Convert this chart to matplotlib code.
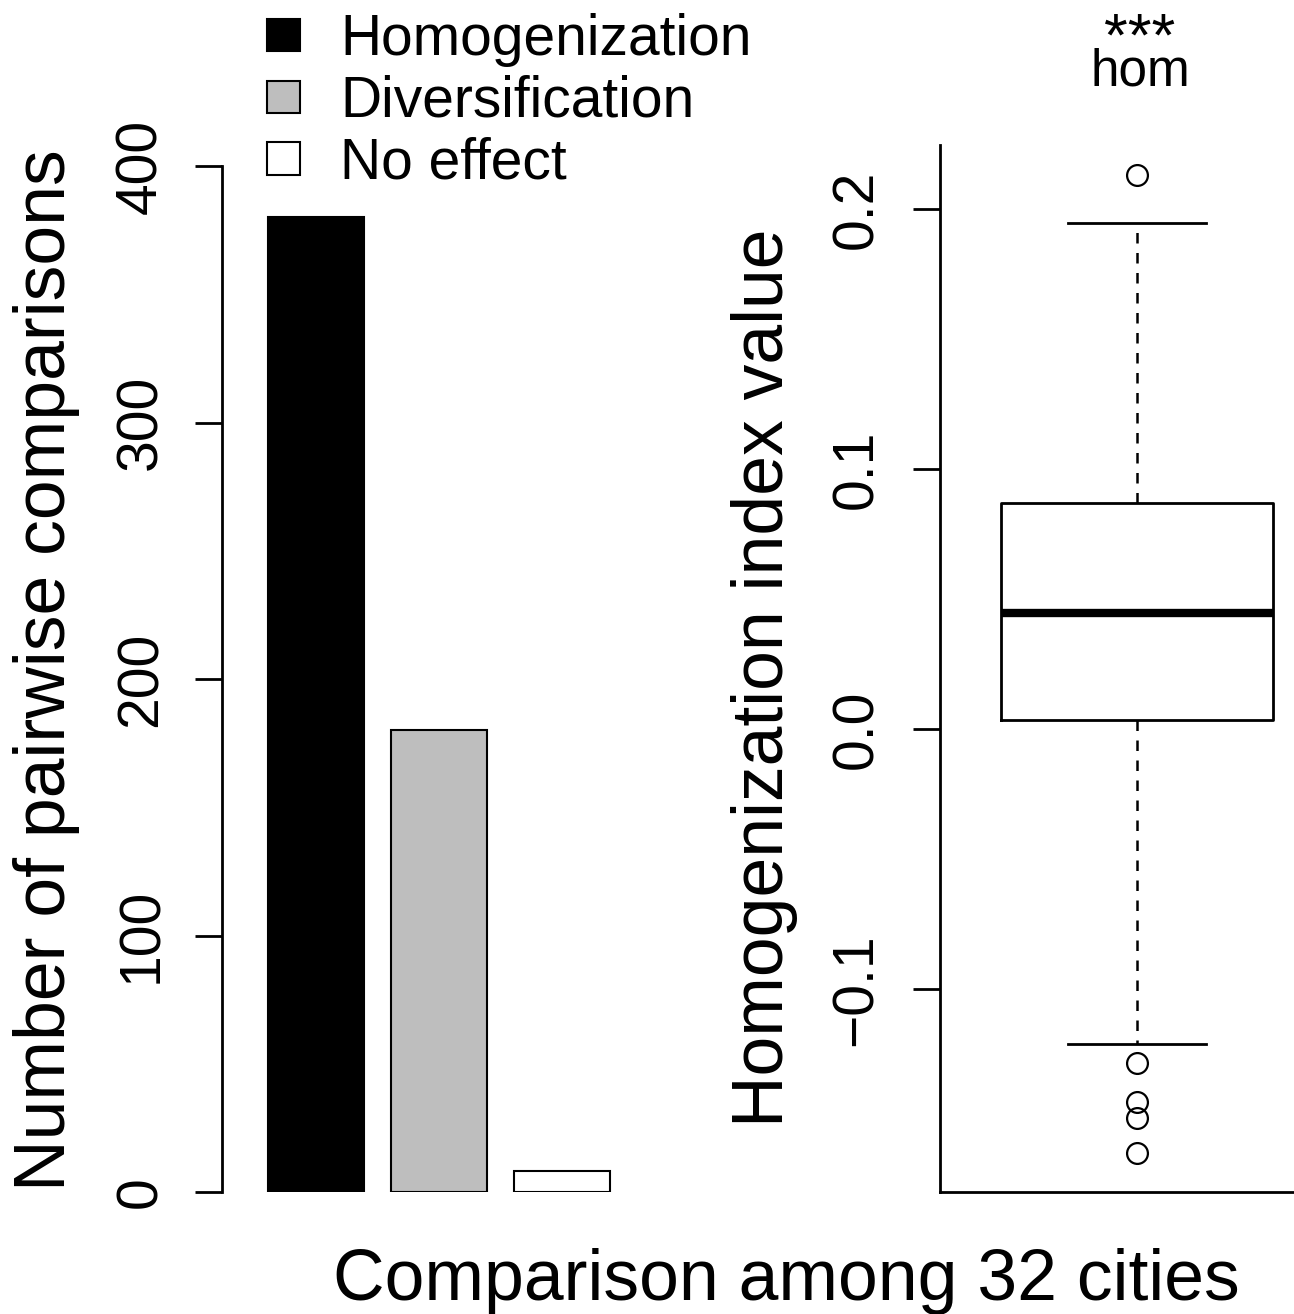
import matplotlib
matplotlib.use('Agg')
import matplotlib.pyplot as plt
from matplotlib.patches import Patch

plt.rcParams['font.family'] = ['Liberation Sans', 'DejaVu Sans']

# ---- data ----
categories = ['Homogenization', 'Diversification', 'No effect']
counts = [380, 180, 8]
bar_colors = ['black', '#bebebe', 'white']
count_ticks = [0, 100, 200, 300, 400]
count_tick_labels = ['0', '100', '200', '300', '400']

hom_med = 0.0447
hom_q1 = 0.0035
hom_q3 = 0.0870
hom_whislo = -0.1209
hom_whishi = 0.1946
hom_fliers = [0.2131, -0.1283, -0.1433, -0.1496, -0.1631]
hom_ticks = [-0.1, 0.0, 0.1, 0.2]
hom_tick_labels = ['\u22120.1', '0.0', '0.1', '0.2']

W, H = 1294, 1314
fig = plt.figure(figsize=(W / 100, H / 100), dpi=100)


def rect(x0, y0, x1, y1):
    return [x0 / W, 1 - y1 / H, (x1 - x0) / W, (y1 - y0) / H]


# ---- left panel: bar chart ----
ax1 = fig.add_axes(rect(222, 166, 640, 1192))
positions = list(range(len(counts)))
ax1.bar(positions, counts, width=0.78, color=bar_colors, edgecolor='black',
        linewidth=1.5)
ax1.set_xlim(-0.764, 2.634)
ax1.set_ylim(0, 400)
for s in ['top', 'right', 'bottom']:
    ax1.spines[s].set_visible(False)
ax1.spines['left'].set_linewidth(2)
ax1.spines['left'].set_bounds(0, 400)
ax1.set_xticks([])
ax1.set_yticks(count_ticks, count_tick_labels)
ax1.tick_params(axis='y', length=19.4, width=2, pad=19, labelsize=41,
                labelrotation=90)
for lab in ax1.get_yticklabels():
    lab.set_va('center')

handles = [Patch(facecolor=c, edgecolor='black', linewidth=1.5, label=l)
           for c, l in zip(bar_colors, categories)]
ax1.legend(handles=handles, loc='upper left',
           bbox_to_anchor=(267 / W, 1 - 13 / H), bbox_transform=fig.transFigure,
           frameon=False, fontsize=41, handlelength=0.58, handleheight=0.5,
           handletextpad=0.7, labelspacing=0.14, borderpad=0, borderaxespad=0)

# ---- right panel: boxplot ----
ax2 = fig.add_axes(rect(940, 145, 1294, 1192))
stats = [dict(med=hom_med, q1=hom_q1, q3=hom_q3, whislo=hom_whislo,
              whishi=hom_whishi, fliers=hom_fliers)]
ax2.bxp(stats, positions=[1], widths=0.8, capwidths=0.406, showfliers=True,
        boxprops=dict(linewidth=2, color='black'),
        medianprops=dict(linewidth=6, color='black', solid_capstyle='butt'),
        whiskerprops=dict(linewidth=1.8, linestyle=(0, (4.2, 3.8)), color='black'),
        capprops=dict(linewidth=2, color='black'),
        flierprops=dict(marker='o', markerfacecolor='none', markeredgecolor='black',
                        markersize=15, markeredgewidth=1.6))
ax2.set_xlim(0.421, 1.4624)
ax2.set_ylim(-0.178, 0.2247)
for s in ['top', 'right']:
    ax2.spines[s].set_visible(False)
ax2.spines['left'].set_linewidth(2)
ax2.spines['bottom'].set_linewidth(2)
ax2.set_xticks([])
ax2.set_yticks(hom_ticks, hom_tick_labels)
ax2.tick_params(axis='y', length=19.4, width=2, pad=21, labelsize=41,
                labelrotation=90)
for lab in ax2.get_yticklabels():
    lab.set_va('center')

# ---- texts ----
fig.text(47 / W, 1 - 670 / H, 'Number of pairwise comparisons', rotation=90,
         ha='center', va='center', fontsize=51.5)
fig.text(765 / W, 1 - 678 / H, 'Homogenization index value', rotation=90,
         ha='center', va='center', fontsize=51.5)
fig.text(786 / W, 1 - 1300 / H, 'Comparison among 32 cities', ha='center',
         va='baseline', fontsize=51.5)
fig.text(1140 / W, 1 - 85 / H, 'hom', ha='center', va='baseline', fontsize=37)
fig.text(1140 / W, 1 - 55 / H, '***', ha='center', va='baseline', fontsize=44)

fig.savefig('out.png', dpi=100)
